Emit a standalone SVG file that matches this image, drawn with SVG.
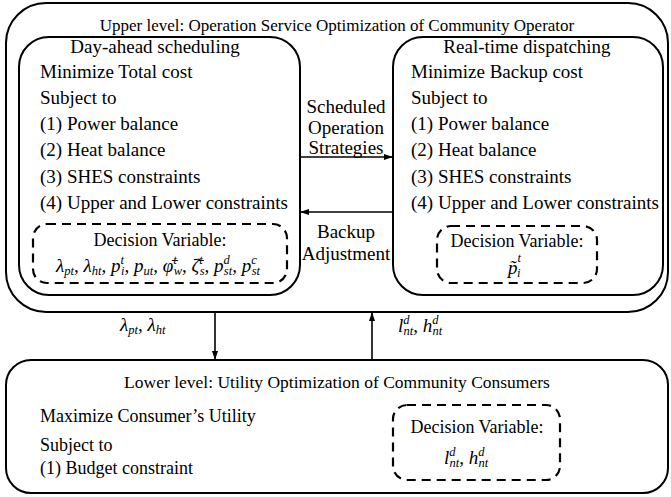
<svg xmlns="http://www.w3.org/2000/svg" width="671" height="497" viewBox="0 0 671 497">
  <style>
    .t { font-family: "Liberation Serif", "Times New Roman", serif; font-size: 19px; fill: #000; }
    .h { font-size: 17px; }
    .d { font-size: 18px; }
    .c { text-anchor: middle; }
    .m { font-family: "Liberation Serif", "Times New Roman", serif; font-style: italic; font-size: 19px; fill: #000; }
    .s { font-size: 12.5px; }
    .box { fill: #fff; stroke: #000; stroke-width: 2; }
    .dash { fill: none; stroke: #000; stroke-width: 2.2; stroke-dasharray: 9 6; }
    .ln { fill: none; stroke: #000; stroke-width: 1.6; }
  </style>
  <defs>
    <marker id="ah" markerWidth="9" markerHeight="8" refX="8" refY="4" orient="auto" markerUnits="userSpaceOnUse">
      <path d="M0,1 L9,4 L0,7 Z" fill="#000"/>
    </marker>
  </defs>
  <rect width="671" height="497" fill="#fff"/>

  <!-- upper level container -->
  <g id="upper-level">
    <rect class="box" x="6" y="3" width="662" height="309" rx="40"/>
    <text class="t h c" x="337" y="31">Upper level: Operation Service Optimization of Community Operator</text>
  </g>

  <!-- day-ahead scheduling -->
  <g id="day-ahead">
    <rect class="box" x="19" y="37" width="281" height="258" rx="30"/>
    <text class="t c" x="155" y="53">Day-ahead scheduling</text>
    <text class="t" x="40" y="78">Minimize Total cost</text>
    <text class="t" x="40" y="104">Subject to</text>
    <text class="t" x="40" y="130">(1) Power balance</text>
    <text class="t" x="40" y="156">(2) Heat balance</text>
    <text class="t" x="40" y="183">(3) SHES constraints</text>
    <text class="t" x="40" y="209">(4) Upper and Lower constraints</text>
    <rect class="dash" x="33" y="224" width="254" height="59" rx="14"/>
    <text class="t d c" x="160" y="246">Decision Variable:</text>
    <text class="m" x="56" y="272">λ<tspan class="s" dy="3">pt</tspan><tspan dy="-3">, λ</tspan><tspan class="s" dy="3">ht</tspan><tspan dy="-3">, p</tspan><tspan class="s" dy="-8">t</tspan><tspan class="s" dx="-3" dy="11">i</tspan><tspan dy="-3">, p</tspan><tspan class="s" dy="3">ut</tspan><tspan dy="-3">, φ̄</tspan><tspan class="s" dy="-8">t</tspan><tspan class="s" dx="-3" dy="11">w</tspan><tspan dy="-3">, ζ̄</tspan><tspan class="s" dy="-8">t</tspan><tspan class="s" dx="-3" dy="11">s</tspan><tspan dy="-3">, p</tspan><tspan class="s" dy="-8">d</tspan><tspan class="s" dx="-6" dy="11">st</tspan><tspan dy="-3">, p</tspan><tspan class="s" dy="-8">c</tspan><tspan class="s" dx="-5" dy="11">st</tspan></text>
  </g>

  <!-- real-time dispatching -->
  <g id="real-time">
    <rect class="box" x="393" y="37" width="270" height="258" rx="30"/>
    <text class="t c" x="527" y="53">Real-time dispatching</text>
    <text class="t" x="411" y="78">Minimize Backup cost</text>
    <text class="t" x="411" y="104">Subject to</text>
    <text class="t" x="411" y="130">(1) Power balance</text>
    <text class="t" x="411" y="156">(2) Heat balance</text>
    <text class="t" x="411" y="183">(3) SHES constraints</text>
    <text class="t" x="411" y="209">(4) Upper and Lower constraints</text>
    <rect class="dash" x="437" y="226" width="160" height="57" rx="14"/>
    <text class="t d c" x="517" y="247">Decision Variable:</text>
    <text class="m" x="508" y="274">p̃<tspan class="s" dy="-12">t</tspan><tspan class="s" dx="-4" dy="15">i</tspan></text>
  </g>

  <!-- lower level -->
  <g id="lower-level">
    <rect class="box" x="6" y="360" width="662" height="133" rx="25"/>
    <text class="t c" style="font-size:17.5px" x="337" y="388">Lower level: Utility Optimization of Community Consumers</text>
    <text class="t d" x="40" y="422">Maximize Consumer’s Utility</text>
    <text class="t d" x="40" y="451">Subject to</text>
    <text class="t d" x="40" y="474">(1) Budget constraint</text>
    <rect class="dash" x="393" y="405" width="167" height="75" rx="14"/>
    <text class="t d c" x="477" y="433">Decision Variable:</text>
    <text class="m" x="444" y="464">l<tspan class="s" dy="-8">d</tspan><tspan class="s" dx="-6" dy="11">nt</tspan><tspan dy="-3">, h</tspan><tspan class="s" dy="-8">d</tspan><tspan class="s" dx="-6" dy="11">nt</tspan></text>
  </g>

  <!-- connectors -->
  <g id="connectors">
    <line class="ln" x1="300" y1="157" x2="392" y2="157" marker-end="url(#ah)"/>
    <text class="t c" x="346" y="113">Scheduled</text>
    <text class="t c" x="346" y="134">Operation</text>
    <text class="t c" x="346" y="154">Strategies</text>
    <line class="ln" x1="393" y1="212" x2="301" y2="212" marker-end="url(#ah)"/>
    <text class="t c" x="346" y="238">Backup</text>
    <text class="t c" x="346" y="260">Adjustment</text>
    <line class="ln" x1="215" y1="312" x2="215" y2="359" marker-end="url(#ah)"/>
    <text class="m" x="120" y="331">λ<tspan class="s" dy="3">pt</tspan><tspan dy="-3">, λ</tspan><tspan class="s" dy="3">ht</tspan></text>
    <line class="ln" x1="372" y1="360" x2="372" y2="313" marker-end="url(#ah)"/>
    <text class="m" x="398" y="332">l<tspan class="s" dy="-8">d</tspan><tspan class="s" dx="-6" dy="11">nt</tspan><tspan dy="-3">, h</tspan><tspan class="s" dy="-8">d</tspan><tspan class="s" dx="-6" dy="11">nt</tspan></text>
  </g>
</svg>
